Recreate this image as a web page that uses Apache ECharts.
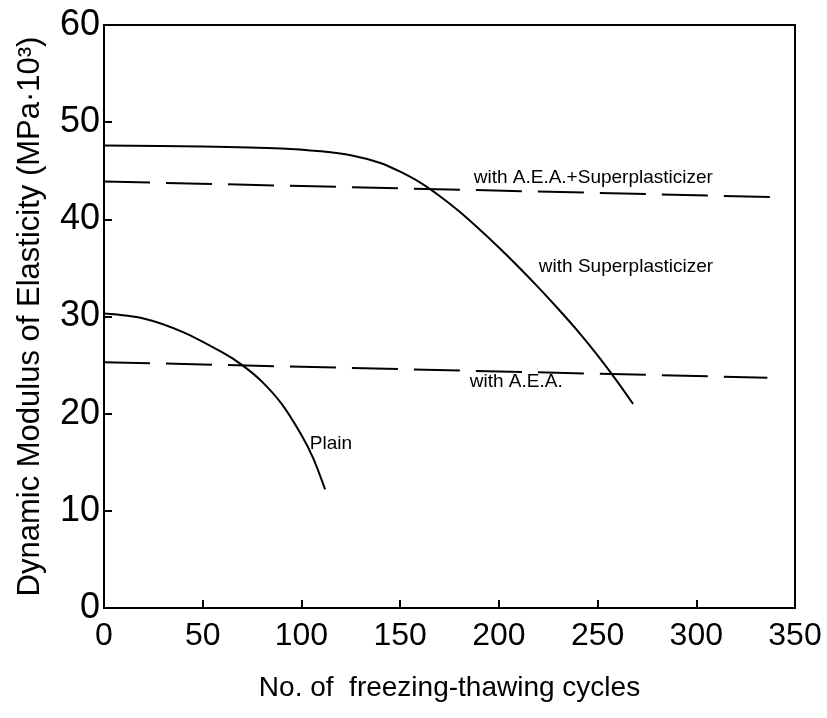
<!DOCTYPE html>
<html>
<head>
<meta charset="utf-8">
<script src="https://cdn.jsdelivr.net/npm/echarts@6/dist/echarts.min.js"></script>
<style>
  html,body{margin:0;padding:0;background:#fff;}
  #chart{width:827px;height:718px;}
</style>
</head>
<body>
<div id="chart"></div>
<script>
// values (cycles, MPa*10^3)
const plainX = [0, 20, 40, 60, 70, 80, 90, 100, 106, 112]
const plainY = [30.3, 29.8, 28.4, 26.3, 25.0, 23.3, 21.0, 17.8, 15.4, 12.2]

const spX = [0, 50, 90, 110, 125, 140, 150, 160, 170, 180, 190, 200, 210, 220, 230, 240, 250, 260, 268]
const spY = [47.6, 47.5, 47.3, 47.0, 46.6, 45.8, 44.9, 43.8, 42.4, 40.8, 39.0, 37.1, 35.1, 33.0, 30.8, 28.5, 26.0, 23.3, 21.0]

const aeaSpX = [0, 338]
const aeaSpY = [43.9, 42.3]

const aeaX = [0, 336]
const aeaY = [25.3, 23.7]

const xTicks = [0, 50, 100, 150, 200, 250, 300, 350]
const yTicks = [0, 10, 20, 30, 40, 50, 60]

const zip = (xs, ys) => xs.map((x, i) => [x, ys[i]])

let chart = echarts.init(document.getElementById('chart'))

const font = 'Liberation Sans, Arial, sans-serif'

function note(text, coord){
  return {
    symbol:'circle',
    symbolSize:1,
    itemStyle:{color:'rgba(0,0,0,0)'},
    data:[{coord, name:text}],
    label:{show:true, position:'right', distance:0, formatter:'{b}',
      color:'#000', fontFamily:font, fontSize:19}
  }
}

let option = {
  animation:false,
  grid:{
    left:104, right:32, top:25, bottom:110,
    show:true, borderColor:'#000', borderWidth:2
  },
  xAxis:{
    type:'value', min:0, max:350, interval:50,
    name:'No. of  freezing-thawing cycles',
    nameLocation:'middle', nameGap:66,
    nameTextStyle:{color:'#000', fontSize:28, fontFamily:font},
    axisLine:{show:true, lineStyle:{color:'#000', width:2}},
    axisTick:{show:true, inside:true, length:8, lineStyle:{color:'#000', width:2}},
    axisLabel:{color:'#000', fontSize:32, margin:12, fontFamily:font,
      formatter:v => xTicks.includes(v) ? String(v) : ''},
    splitLine:{show:false}
  },
  yAxis:{
    type:'value', min:0, max:60, interval:10,
    name:'Dynamic Modulus of Elasticity (MPa·10³)',
    nameLocation:'middle', nameGap:58, nameRotate:90,
    nameTextStyle:{color:'#000', fontSize:31, fontFamily:font},
    axisLine:{show:true, lineStyle:{color:'#000', width:2}},
    axisTick:{show:true, inside:true, length:8, lineStyle:{color:'#000', width:2}},
    axisLabel:{color:'#000', fontSize:36, margin:4, fontFamily:font,
      formatter:v => yTicks.includes(v) ? String(v) : ''},
    splitLine:{show:false}
  },
  series:[
    {
      name:'Plain', type:'line', smooth:0.3, symbol:'none',
      data:zip(plainX, plainY),
      lineStyle:{color:'#000', width:2},
      markPoint:note('Plain', [104, 16.9])
    },
    {
      name:'with Superplasticizer', type:'line', smooth:0.3, symbol:'none',
      data:zip(spX, spY),
      lineStyle:{color:'#000', width:2},
      markPoint:note('with Superplasticizer', [220, 35.1])
    },
    {
      name:'with A.E.A.+Superplasticizer', type:'line', symbol:'none',
      data:zip(aeaSpX, aeaSpY),
      lineStyle:{color:'#000', width:2, type:[46,16]},
      markPoint:note('with A.E.A.+Superplasticizer', [187, 44.3])
    },
    {
      name:'with A.E.A.', type:'line', symbol:'none',
      data:zip(aeaX, aeaY),
      lineStyle:{color:'#000', width:2, type:[46,16]},
      markPoint:note('with A.E.A.', [185, 23.3])
    }
  ]
}

chart.setOption(option)
</script>
</body>
</html>
